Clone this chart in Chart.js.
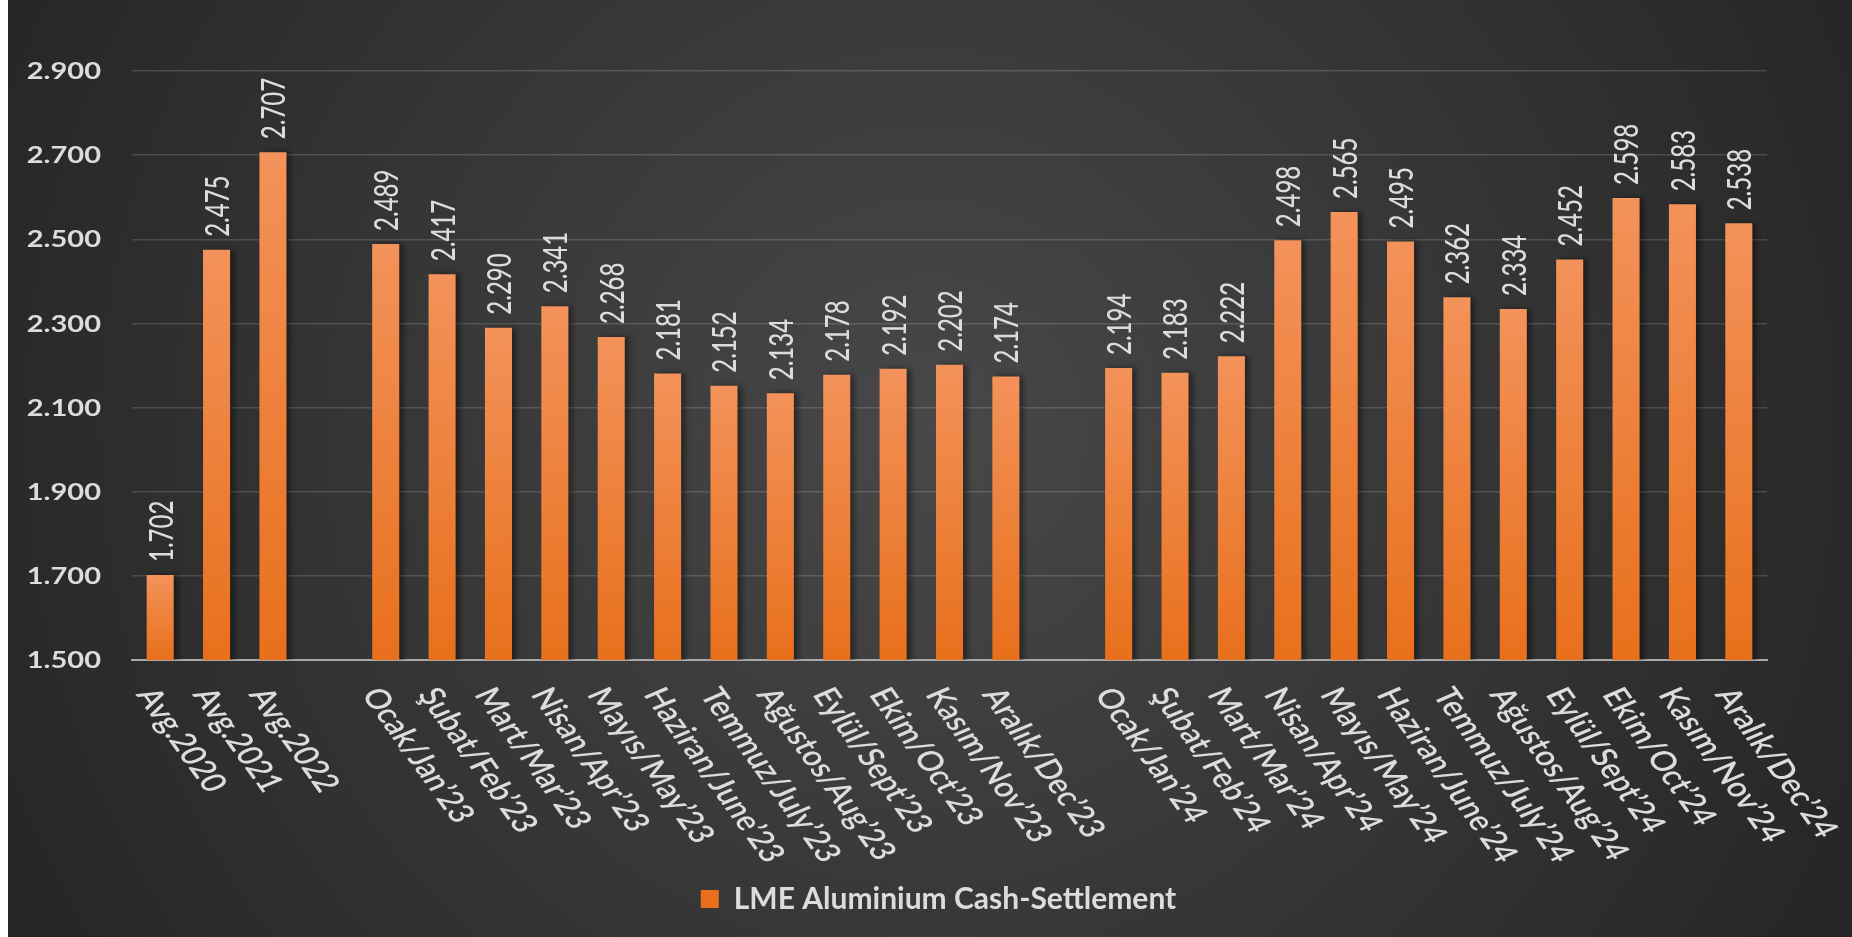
<!DOCTYPE html>
<html>
<head>
<meta charset="utf-8">
<title>LME Aluminium Cash-Settlement</title>
<script src="https://cdn.jsdelivr.net/npm/chart.js"></script>
<style>
  html, body { margin: 0; padding: 0; background: #fff; }
</style>
</head>
<body>
<canvas id="lmeChart" width="1852" height="937"></canvas>
<script>
// categories (empty strings are the gaps between the year groups)
const categories = [
  'Avg.2020', 'Avg.2021', 'Avg.2022', '',
  'Ocak/Jan’23', 'Şubat/Feb’23', 'Mart/Mar’23', 'Nisan/Apr’23', 'Mayıs/May’23', 'Haziran/June’23',
  'Temmuz/July’23', 'Ağustos/Aug’23', 'Eylül/Sept’23', 'Ekim/Oct’23', 'Kasım/Nov’23', 'Aralık/Dec’23', '',
  'Ocak/Jan’24', 'Şubat/Feb’24', 'Mart/Mar’24', 'Nisan/Apr’24', 'Mayıs/May’24', 'Haziran/June’24',
  'Temmuz/July’24', 'Ağustos/Aug’24', 'Eylül/Sept’24', 'Ekim/Oct’24', 'Kasım/Nov’24', 'Aralık/Dec’24'
];
const prices = [
  1702, 2475, 2707, null,
  2489, 2417, 2290, 2341, 2268, 2181, 2152, 2134, 2178, 2192, 2202, 2174, null,
  2194, 2183, 2222, 2498, 2565, 2495, 2362, 2334, 2452, 2598, 2583, 2538
];
const seriesName = 'LME Aluminium Cash-Settlement';
const yMin = 1500;
const yMax = 2900;
const yStep = 200;

const TEXT = '#dcdcdc';

function fmt(n) {
  return String(n).replace(/\B(?=(\d{3})+(?!\d))/g, '.');
}

function barFill(c) {
  const chart = c.chart;
  const area = chart.chartArea;
  if (!area || c.type !== 'data' || c.raw == null) return '#EF7D2C';
  const y = chart.scales.y;
  const top = y.getPixelForValue(c.raw);
  const g = chart.ctx.createLinearGradient(0, top, 0, area.bottom);
  g.addColorStop(0, '#F3925A');
  g.addColorStop(1, '#E8701C');
  return g;
}

const background = {
  id: 'background',
  beforeDraw(chart) {
    const ctx = chart.ctx;
    const w = chart.width, h = chart.height;
    ctx.save();
    ctx.fillStyle = '#fff';
    ctx.fillRect(0, 0, w, h);
    const g = ctx.createRadialGradient(930, 430, 0, 930, 430, 1050);
    g.addColorStop(0, '#484848');
    g.addColorStop(1, '#252525');
    ctx.fillStyle = g;
    ctx.fillRect(8, 0, w - 8, h);
    ctx.restore();
  }
};

const barShadow = {
  id: 'barShadow',
  beforeDatasetsDraw(chart) {
    const ctx = chart.ctx;
    ctx.save();
    ctx.shadowColor = 'rgba(0,0,0,0.45)';
    ctx.shadowBlur = 6;
    ctx.shadowOffsetX = 4;
    ctx.shadowOffsetY = 0;
  },
  afterDatasetsDraw(chart) {
    chart.ctx.restore();
  }
};

const textLabels = {
  id: 'textLabels',
  afterLayout(chart) {
    // legend sits a little right of the plot centre in the original
    chart.legend.left += 55;
    chart.legend.right += 55;
  },
  afterDraw(chart) {
    const ctx = chart.ctx;
    const xs = chart.scales.x, ys = chart.scales.y;
    const meta = chart.getDatasetMeta(0);
    ctx.save();
    ctx.fillStyle = TEXT;

    // y tick labels
    ctx.font = 'bold 22px Lato';
    ctx.textAlign = 'right';
    ctx.textBaseline = 'middle';
    ys.ticks.forEach(t => {
      ctx.save();
      ctx.translate(101, ys.getPixelForValue(t.value) + 1);
      ctx.scale(1.32, 1);
      ctx.fillText(fmt(t.value), 0, 0);
      ctx.restore();
    });

    // value labels above the bars
    ctx.font = '500 24px Lato';
    ctx.textAlign = 'left';
    ctx.textBaseline = 'middle';
    meta.data.forEach((bar, i) => {
      if (prices[i] == null) return;
      ctx.save();
      ctx.translate(bar.x + 2, bar.y - 13);
      ctx.scale(1.35, 1);
      ctx.rotate(-Math.PI / 2);
      ctx.fillText(fmt(prices[i]), 0, 0);
      ctx.restore();
    });

    // category labels, slanted down to the right
    ctx.font = '600 27px Lato';
    categories.forEach((label, i) => {
      if (!label) return;
      ctx.save();
      ctx.translate(xs.getPixelForValue(i) - 15, chart.chartArea.bottom + 30);
      ctx.scale(1.3, 1);
      ctx.rotate(61 * Math.PI / 180);
      ctx.fillText(label, 0, 0);
      ctx.restore();
    });
    ctx.restore();
  }
};

const ctx = document.getElementById('lmeChart').getContext('2d');
new Chart(ctx, {
  type: 'bar',
  data: {
    labels: categories,
    datasets: [{
      label: seriesName,
      data: prices,
      backgroundColor: barFill,
      borderWidth: 0,
      categoryPercentage: 1,
      barPercentage: 0.48
    }]
  },
  options: {
    responsive: false,
    animation: false,
    layout: { padding: { left: 0, right: 85, top: 71, bottom: 13 } },
    scales: {
      x: {
        grid: { display: false },
        border: { display: true, color: '#a9a9a9', width: 2 },
        ticks: { display: false },
        afterFit(scale) { scale.height = 214; }
      },
      y: {
        min: yMin,
        max: yMax,
        ticks: { display: false, stepSize: yStep },
        grid: {
          color: c => c.tick && c.tick.value === yMin ? 'rgba(0,0,0,0)' : 'rgba(255,255,255,0.15)',
          lineWidth: 1.5,
          drawTicks: false
        },
        border: { display: false },
        afterFit(scale) { scale.width = 132; }
      }
    },
    plugins: {
      legend: {
        position: 'bottom',
        labels: {
          color: TEXT,
          font: { family: 'Lato', size: 30, weight: 'bold' },
          boxWidth: 18,
          boxHeight: 18,
          padding: 10
        }
      },
      tooltip: { enabled: false }
    }
  },
  plugins: [background, barShadow, textLabels]
});
</script>
</body>
</html>
